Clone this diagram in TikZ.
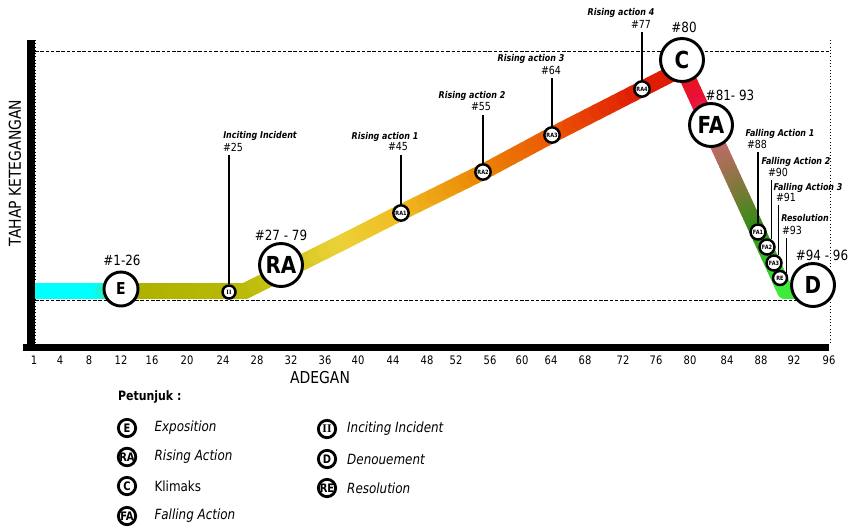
\documentclass[tikz,border=0pt]{standalone}
\usepackage{fontspec}
\setmainfont{DejaVu Sans}[FakeStretch=0.85]
\newfontfamily\romfont{Liberation Serif}
\usetikzlibrary{calc, positioning}
\definecolor{expcyan}{RGB}{0,255,255}
\definecolor{olive}{RGB}{172,178,0}
\definecolor{olivetwo}{RGB}{185,185,5}
\definecolor{ylw}{RGB}{235,210,55}
\definecolor{ylwor}{RGB}{240,190,35}
\definecolor{orng}{RGB}{235,135,5}
\definecolor{orred}{RGB}{235,90,5}
\definecolor{redpk}{RGB}{225,28,5}
\definecolor{crim}{RGB}{235,15,55}
\definecolor{pinkish}{RGB}{200,105,110}
\definecolor{brgrn}{RGB}{130,120,60}
\definecolor{grn}{RGB}{50,140,20}
\definecolor{lgrn}{RGB}{60,235,60}

\begin{document}
\begin{tikzpicture}[
  x=0.03cm, y=-0.03cm,
  axisbar/.style={line width=6pt, black},
  guide/.style={line width=0.8pt, dash pattern=on 3pt off 1.5pt},
  guidev/.style={line width=0.8pt, dotted},
  band/.style={line width=13.6pt, line cap=round},
  bigpt/.style={circle, draw, line width=2.5pt, fill=white, inner sep=0pt,
                minimum size=1.29cm, font=\fontsize{20}{20}\selectfont\bfseries},
  ept/.style={bigpt, minimum size=1.02cm, font=\fontsize{14}{14}\selectfont\bfseries},
  smallpt/.style={circle, draw, line width=2.1pt, fill=white, inner sep=0pt,
                  minimum size=0.46cm, font=\fontsize{5}{5}\selectfont\bfseries},
  stem/.style={line width=1.2pt},
  ttl/.style={font=\fontsize{8}{8}\selectfont\bfseries\itshape},
  num/.style={font=\fontsize{9.5}{10}\selectfont},
  hashlbl/.style={font=\fontsize{12}{12}\selectfont},
  tick/.style={font=\fontsize{10}{10}\selectfont},
  axlbl/.style={font=\fontsize{14}{14}\selectfont},
  keypt/.style={circle, draw, line width=2.4pt, inner sep=0pt, minimum size=0.52cm,
                font=\fontsize{10}{10}\selectfont\bfseries},
  keytxt/.style={font=\fontsize{12}{12}\selectfont\itshape}
]
\useasboundingbox (0,0) rectangle (851,529);

\draw[guide] (35,51) -- (830,51);
\draw[guide] (35,300) -- (830,300);
\draw[guidev] (35,40) -- (35,345);
\draw[guidev] (830,40) -- (830,345);

\foreach \xa/\ya/\ca/\xb/\yb/\cb in {
  35/291/expcyan/100/291/expcyan, 100/291/expcyan/138/291/olive,
  138/291/olive/245/291/olivetwo, 245/291/olivetwo/345/241/ylw,
  345/241/ylw/400/213/ylwor, 400/213/ylwor/483/172/orng,
  483/172/orng/552/135/orred, 552/135/orred/642/89/redpk,
  642/89/redpk/683/68/redpk, 683/68/redpk/700/105/crim,
  700/105/crim/718/145/pinkish, 718/145/pinkish/740/193/brgrn,
  740/193/brgrn/758/232/grn, 758/232/grn/785/291/lgrn,
  785/291/lgrn/800/291/lgrn}{
  \foreach \k in {0,...,9}{
    \pgfmathsetmacro{\ta}{\k/10}
    \pgfmathsetmacro{\tb}{(\k+1)/10}
    \pgfmathtruncatemacro{\pc}{\k*10+5}
    \draw[band, draw=\cb!\pc!\ca] ($(\xa,\ya)!\ta!(\xb,\yb)$) -- ($(\xa,\ya)!\tb!(\xb,\yb)$);
  }
}

\draw[axisbar] (31,40) -- (31,351);
\draw[axisbar] (23,347.5) -- (829,347.5);

\foreach \v/\x in {1/34, 4/60, 8/89, 12/121, 16/152, 20/187, 24/223, 28/257, 32/291,
  36/325, 40/358, 44/393, 48/427, 52/456, 56/490, 60/522, 64/551, 68/585,
  72/623, 76/656, 80/690, 84/727, 88/761, 92/794, 96/829}
  \node[tick] (t\v) at (\x,360) {\v};

\node[axlbl, rotate=90] (ylab) at (15,173) {TAHAP KETEGANGAN};
\node[axlbl] (xlab) at (320,378) {ADEGAN};

\node[ept] (e) at (121,289) {E};
\node[smallpt, minimum size=0.39cm, font=\fontsize{5.5}{6}\selectfont\romfont\bfseries] (ii) at (229,292) {II};
\node[bigpt] (ra) at (281,265) {RA};
\node[smallpt] (ra1) at (401,213) {RA1};
\node[smallpt] (ra2) at (483,172) {RA2};
\node[smallpt] (ra3) at (552,135) {RA3};
\node[smallpt] (ra4) at (642,89) {RA4};
\node[bigpt] (c) at (682,60) {C};
\node[bigpt] (fa) at (711,125) {FA};
\node[smallpt, minimum size=0.45cm] (fa1) at (758,232) {FA1};
\node[smallpt, minimum size=0.45cm] (fa2) at (767,247) {FA2};
\node[smallpt, minimum size=0.45cm] (fa3) at (774,263) {FA3};
\node[smallpt, minimum size=0.42cm] (re) at (780,278) {RE};
\node[bigpt] (d) at (813,285) {D};

\node[hashlbl] (h1) at (122,260) {\#1-26};
\node[hashlbl] (h2) at (281,235) {\#27 - 79};
\node[hashlbl] (h3) at (684,27) {\#80};
\node[hashlbl] (h4) at (730,95) {\#81- 93};
\node[hashlbl] (h5) at (822,255) {\#94 - 96};

\node[num] (n25) at (233,147) {\#25};
\node[ttl] (t25) at (260,136) {Inciting Incident};
\node[num] (n45) at (398,147) {\#45};
\node[ttl] (t45) at (385,137) {Rising action 1};
\node[num] (n55) at (481,107) {\#55};
\node[ttl] (t55) at (472,96) {Rising action 2};
\node[num] (n64) at (551,70) {\#64};
\node[ttl] (t64) at (531,59) {Rising action 3};
\node[num] (n77) at (641,24) {\#77};
\node[ttl] (t77) at (621,13) {Rising action 4};
\node[num] (n88) at (757,144) {\#88};
\node[ttl] (t88) at (780,134) {Falling Action 1};
\node[num] (n90) at (778,172) {\#90};
\node[ttl] (t90) at (796,162) {Falling Action 2};
\node[num] (n91) at (786,197) {\#91};
\node[ttl] (t91) at (808,188) {Falling Action 3};
\node[num] (n93) at (792,230) {\#93};
\node[ttl] (t93) at (805,218) {Resolution};

\draw[stem] (ii.north) -- (ii.north |- n25.south);
\draw[stem] (ra1.north) -- (ra1.north |- n45.south);
\draw[stem] (ra2.north) -- (ra2.north |- n55.south);
\draw[stem] (ra3.north) -- (ra3.north |- n64.south);
\draw[stem] (ra4.north) -- (ra4.north |- n77.south);
\draw[stem] (fa1.north) -- (fa1.north |- n88.south);
\draw[stem] (fa2.60) -- (fa2.60 |- n90.south);
\draw[stem] (fa3.60) -- (fa3.60 |- n91.south);
\draw[stem] (re.40) -- (re.40 |- n93.south);

\node[font=\fontsize{11}{11}\selectfont\bfseries, anchor=west] (key) at (114,397) {Petunjuk :};
\node[keypt] (ke) at (127,428) {E};
\node[keytxt, right=0.4cm of ke] (kte) {Exposition};
\node[keypt] (kra) at (127,457) {RA};
\node[keytxt, right=0.4cm of kra] (ktra) {Rising Action};
\node[keypt] (kc) at (127,486) {C};
\node[keytxt, font=\fontsize{12}{12}\selectfont, right=0.4cm of kc] (ktc) {Klimaks};
\node[keypt] (kfa) at (127,516) {FA};
\node[keytxt, right=0.4cm of kfa] (ktfa) {Falling Action};
\node[keypt, font=\fontsize{10}{10}\selectfont\romfont\bfseries] (kii) at (327,429) {II};
\node[keytxt, right=0.18cm of kii] (ktii) {Inciting Incident};
\node[keypt] (kd) at (327,459) {D};
\node[keytxt, right=0.18cm of kd] (ktd) {Denouement};
\node[keypt] (kre) at (327,488) {RE};
\node[keytxt, right=0.18cm of kre] (ktre) {Resolution};
\end{tikzpicture}
\end{document}
